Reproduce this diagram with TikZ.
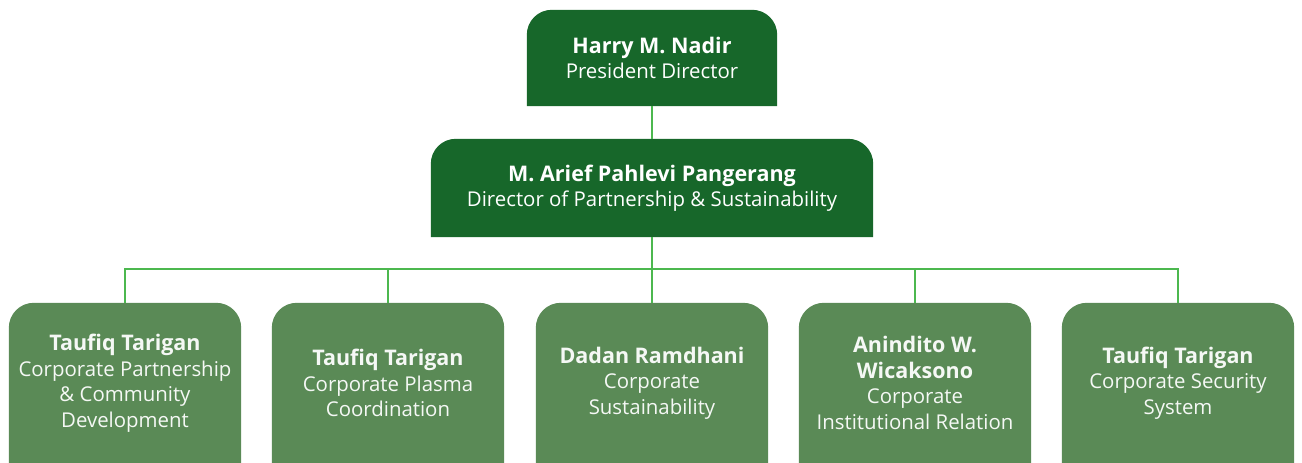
\documentclass[tikz,border=0pt]{standalone}
\usepackage{fontspec}
\setmainfont{Open Sans}
\usetikzlibrary{backgrounds}
\definecolor{darkgreen}{HTML}{17672A}
\definecolor{softgreen}{HTML}{5A8A56}
\definecolor{linegreen}{HTML}{4CB84F}
\newcommand{\who}[1]{{\fontsize{21.5}{25.5}\selectfont\bfseries #1}}
\newcommand{\tabfill}[2]{%
  \fill[#2] (#1.south west) -- ([yshift=-25pt]#1.north west)
    arc[start angle=180,end angle=90,radius=25pt] -- ([xshift=-25pt]#1.north east)
    arc[start angle=90,end angle=0,radius=25pt] -- (#1.south east) -- cycle;}
\tikzset{
  head/.style={text=white,align=center,inner sep=0pt,font=\fontsize{20.4}{25.5}\selectfont},
  unit/.style={head,minimum width=232pt,minimum height=160pt,text=white!94!softgreen},
  conn/.style={linegreen,line width=2.5pt}
}

\begin{document}
\begin{tikzpicture}[x=1pt,y=1pt]
    \useasboundingbox (0,0) rectangle (1302,463);
    \node[head,minimum width=250pt,minimum height=96pt] (pres) at (652,405) {\who{Harry M. Nadir}\\President Director};
    \node[head,minimum width=442pt,minimum height=98pt] (dir) at (652,275) {\who{M. Arief Pahlevi Pangerang}\\Director of Partnership \& Sustainability};
    \node[unit] (cpcd) at (125,80) {\who{Taufiq Tarigan}\\Corporate Partnership\\\& Community\\Development};
    \node[unit] (cpc) at (388,80) {\who{Taufiq Tarigan}\\Corporate Plasma\\Coordination};
    \node[unit] (cs) at (652,80) {\who{Dadan Ramdhani}\\Corporate\\Sustainability};
    \node[unit] (cir) at (915,80) {\who{Anindito W.}\\\who{Wicaksono}\\Corporate\\Institutional Relation};
    \node[unit] (css) at (1178,80) {\who{Taufiq Tarigan}\\Corporate Security\\System};
    \coordinate (bus) at (652,194);
    \begin{scope}[on background layer]
        \tabfill{pres}{darkgreen}
        \tabfill{dir}{darkgreen}
        \foreach \u in {cpcd,cpc,cs,cir,css} {\tabfill{\u}{softgreen}}
    \end{scope}
    \draw[conn] (pres.south) -- (dir.north);
    \draw[conn] (dir.south) -- (bus);
    \foreach \u in {cpcd,cpc,cs,cir,css}
        \draw[conn] (\u.north) |- (bus);
\end{tikzpicture}
\end{document}
